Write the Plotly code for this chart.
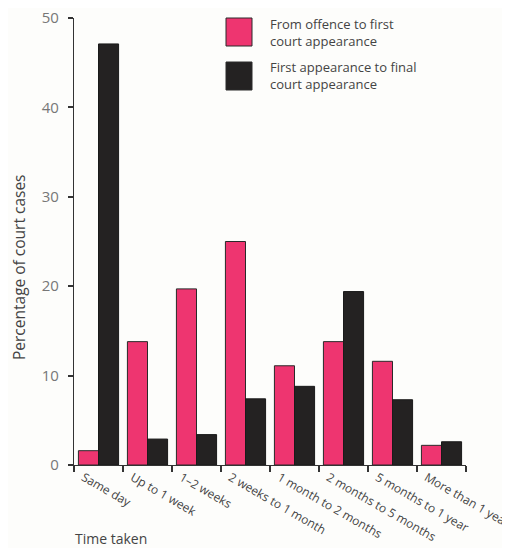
import plotly.graph_objects as go

categories = ["Same day", "Up to 1 week", "1–2 weeks", "2 weeks to 1 month",
              "1 month to 2 months", "2 months to 5 months", "5 months to 1 year",
              "More than 1 year"]
offence_to_first = [1.6, 13.8, 19.7, 25.0, 11.1, 13.8, 11.6, 2.2]
first_to_final = [47.1, 2.9, 3.4, 7.4, 8.8, 19.4, 7.3, 2.6]
series_names = ["From offence to first<br>court appearance",
                "First appearance to final<br>court appearance"]
y_ticks = [0, 10, 20, 30, 40, 50]

PINK = "#ee3570"
BLACK = "#242222"
FONT = "Open Sans"

# page offset (body margin) of 8px; plot area in page pixels: x 74..466, y 18..465
OFF = 8
L, R, T, B = 74 - OFF, 466 - OFF, 18 - OFF, 465 - OFF
W, H = 510 - OFF, 548 - OFF
PW, PH = R - L, B - T


def px(xp):
    return (xp - OFF - L) / PW


def py(yp):
    return (B - (yp - OFF)) / PH


fig = go.Figure()
fig.add_trace(go.Bar(x=categories, y=offence_to_first, name=series_names[0],
                     marker=dict(color=PINK, line=dict(color="#2a2a2a", width=1))))
fig.add_trace(go.Bar(x=categories, y=first_to_final, name=series_names[1],
                     marker=dict(color=BLACK, line=dict(color="#1a1a1a", width=1))))

fig.update_layout(
    width=W, height=H,
    margin=dict(l=L, r=W - R, t=T, b=H - B),
    paper_bgcolor="#fdfdfb", plot_bgcolor="#fdfdfb",
    barmode="group", bargap=0.18, bargroupgap=0,
    showlegend=False,
    font=dict(family=FONT, color="#444"),
)
fig.update_xaxes(
    type="category", showgrid=False, showline=True, linecolor="#333", linewidth=1.2,
    ticks="outside", tickson="boundaries", ticklen=6, tickcolor="#333", tickwidth=1.5,
    tickangle=30, tickfont=dict(size=12, color="#444", family=FONT),
    ticklabelshift=-15, ticklabeloverflow="allow", automargin=False,
)
fig.update_yaxes(
    range=[0, 50], tickvals=y_ticks, showgrid=False, zeroline=False,
    showline=True, linecolor="#333", linewidth=1.2,
    ticks="outside", ticklen=5, tickcolor="#333", tickwidth=1.5,
    tickfont=dict(size=15, color="#777", family=FONT), ticklabelstandoff=6,
    ticklabeloverflow="allow", automargin=False,
)

# legend drawn as swatches + text
legend_rows = [(PINK, series_names[0], 18), (BLACK, series_names[1], 62)]
for color, label, top in legend_rows:
    fig.add_shape(type="rect", xref="paper", yref="paper",
                  x0=px(226), x1=px(252), y0=py(top + 28), y1=py(top),
                  fillcolor=color, line=dict(color="#2a2a2a", width=1))
    fig.add_annotation(xref="paper", yref="paper", x=px(268), y=py(top + 14),
                       text=label, showarrow=False, xanchor="left", yanchor="middle",
                       align="left", font=dict(size=13, color="#444", family=FONT))

fig.add_annotation(xref="paper", yref="paper", x=px(19), y=py(267),
                   text="Percentage of court cases", textangle=-90, showarrow=False,
                   xanchor="center", yanchor="middle",
                   font=dict(size=15.5, color="#444", family=FONT))
fig.add_annotation(xref="paper", yref="paper", x=px(73), y=py(538),
                   text="Time taken", showarrow=False, xanchor="left", yanchor="middle",
                   font=dict(size=14, color="#444", family=FONT))

fig.write_html("out.html")
